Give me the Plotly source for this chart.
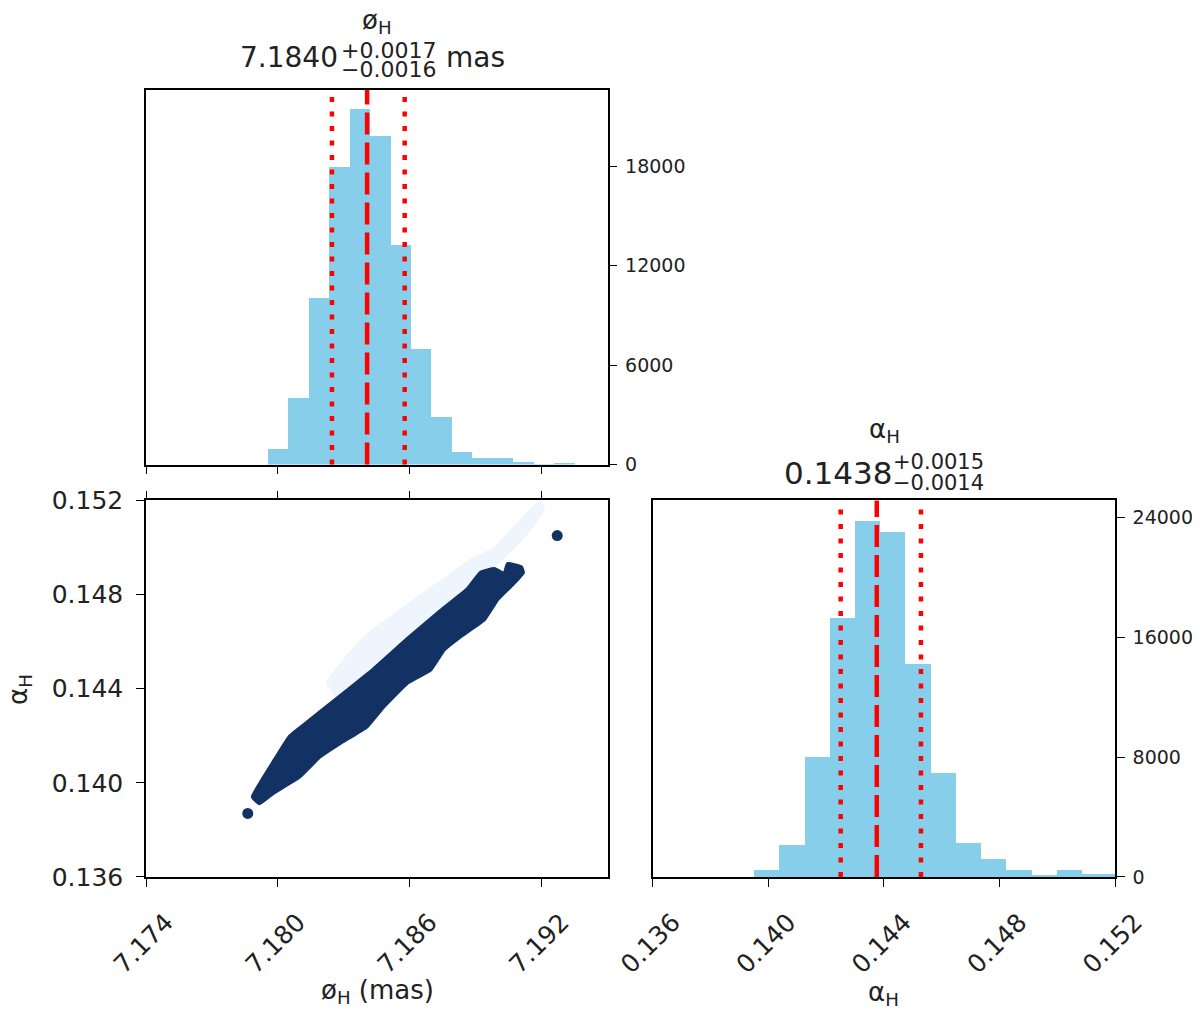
import numpy as np
import plotly.graph_objects as go

# phi_H histogram (counts per bin)
phi_bin_start = 7.17954
phi_bin_width = 0.000931
phi_counts = [965, 4020, 10050, 17970, 21490, 19840, 13270, 6980, 2850, 740, 380, 380, 140, 20, 100]
phi_lines = [7.18246, 7.18406, 7.18577]   # 16%, median, 84%

# alpha_H histogram
alpha_bin_start = 0.139505
alpha_bin_width = 0.000873
alpha_counts = [445, 2110, 8000, 17270, 23780, 23000, 14220, 6930, 2270, 1180, 445, 100, 445, 200, 200]
alpha_lines = [0.14250, 0.14375, 0.14528]

# scatter cloud outline (dark part)
dark_x = [7.17886, 7.17977, 7.18054, 7.18130, 7.18283, 7.18435, 7.18588, 7.18741, 7.18863, 7.18924,
          7.18985, 7.19031, 7.19046, 7.19107, 7.19115,
          7.19076, 7.19000, 7.18939, 7.18832, 7.18756, 7.18695, 7.18588, 7.18481, 7.18405, 7.18283,
          7.18191, 7.18099, 7.17977, 7.17916]
dark_y = [0.13941, 0.14084, 0.14197, 0.14254, 0.14368, 0.14482, 0.14610, 0.14731, 0.14823, 0.14894,
          0.14909, 0.14887, 0.14930, 0.14916, 0.14894,
          0.14852, 0.14781, 0.14695, 0.14624, 0.14567, 0.14482, 0.14425, 0.14325, 0.14240, 0.14169,
          0.14112, 0.14027, 0.13956, 0.13913]
# light strip just above it
light_x = [7.18229, 7.18405, 7.18588, 7.18741, 7.18893, 7.18985, 7.19191,
           7.19206, 7.19107, 7.18993, 7.18878, 7.18283, 7.18252]
light_y = [0.14425, 0.14624, 0.14752, 0.14852, 0.14951, 0.14994, 0.15190,
           0.15165, 0.15037, 0.14930, 0.14780, 0.14332, 0.14396]
# two lone points
out_x = [7.17863, 7.19271]
out_y = [0.13870, 0.15051]

phi_ticks = [7.174, 7.180, 7.186, 7.192]
phi_labels = ["7.174", "7.180", "7.186", "7.192"]
alpha_ticks = [0.136, 0.140, 0.144, 0.148, 0.152]
alpha_labels = ["0.136", "0.140", "0.144", "0.148", "0.152"]
phi_count_ticks = [0, 6000, 12000, 18000]
alpha_count_ticks = [0, 8000, 16000, 24000]

FONT = "DejaVu Sans"
OFF = 8   # page margin of the html body
W, H = 1192, 1005
ML, MR, MT, MB = 138, 85, 82, 136
PW, PH = W - ML - MR, H - MT - MB


def px(x, y):
    # page pixel position -> paper coords
    return (x - OFF - ML) / PW, (H - MB - (y - OFF)) / PH


skyblue = "#87ceeb"
dark = "#123264"
light = "#eef5fc"

fig = go.Figure()

phi_centers = phi_bin_start + phi_bin_width * (np.arange(len(phi_counts)) + 0.5)
fig.add_trace(go.Bar(x=phi_centers, y=phi_counts, width=phi_bin_width,
                     marker=dict(color=skyblue, line=dict(width=0)),
                     xaxis="x", yaxis="y", hoverinfo="skip"))

alpha_centers = alpha_bin_start + alpha_bin_width * (np.arange(len(alpha_counts)) + 0.5)
fig.add_trace(go.Bar(x=alpha_centers, y=alpha_counts, width=alpha_bin_width,
                     marker=dict(color=skyblue, line=dict(width=0)),
                     xaxis="x3", yaxis="y3", hoverinfo="skip"))

# scatter cloud
fig.add_trace(go.Scatter(x=light_x + light_x[:1], y=light_y + light_y[:1], mode="lines",
                         fill="toself", fillcolor=light, line=dict(color=light, width=4, shape="spline", smoothing=0.5),
                         xaxis="x2", yaxis="y2", hoverinfo="skip"))
fig.add_trace(go.Scatter(x=dark_x + dark_x[:1], y=dark_y + dark_y[:1], mode="lines",
                         fill="toself", fillcolor=dark, line=dict(color=dark, width=4, shape="spline", smoothing=0.3),
                         xaxis="x2", yaxis="y2", hoverinfo="skip"))
fig.add_trace(go.Scatter(x=out_x, y=out_y, mode="markers",
                         marker=dict(color=dark, size=11),
                         xaxis="x2", yaxis="y2", hoverinfo="skip"))

# quantile lines
for i, v in enumerate(phi_lines):
    fig.add_shape(type="line", xref="x", yref="y domain", x0=v, x1=v, y0=0, y1=1,
                  line=dict(color="red", width=4.5, dash="22px,8px" if i == 1 else "5px,9.5px"))
for i, v in enumerate(alpha_lines):
    fig.add_shape(type="line", xref="x3", yref="y3 domain", x0=v, x1=v, y0=0, y1=1,
                  line=dict(color="red", width=4.5, dash="22px,8px" if i == 1 else "5px,9.5px"))

axis_common = dict(showline=True, linecolor="black", linewidth=1.5, ticks="outside",
                   ticklen=8, tickwidth=1.3, tickcolor="black", showgrid=False, zeroline=False,
                   automargin=False, tickfont=dict(family=FONT, size=25, color="#222"))
small_ticks = dict(family=FONT, size=19, color="#222")

fig.update_layout(
    width=W, height=H,
    margin=dict(l=ML, r=MR, t=MT, b=MB),
    paper_bgcolor="white", plot_bgcolor="white",
    showlegend=False, bargap=0,
    font=dict(family=FONT, color="#222"),
    xaxis=dict(axis_common, domain=[0, 0.4763], range=[7.174, 7.195], tickvals=phi_ticks,
               showticklabels=False, mirror=True, anchor="y"),
    yaxis=dict(axis_common, domain=[0.5241, 1], range=[0, 22610], tickvals=phi_count_ticks,
               ticktext=[str(v) for v in phi_count_ticks],
               side="right", mirror=True, anchor="x", tickfont=small_ticks, ticklabelstandoff=4),
    xaxis2=dict(axis_common, domain=[0, 0.4763], range=[7.174, 7.195], tickvals=phi_ticks,
                ticktext=phi_labels, tickangle=-45, mirror="ticks",
                anchor="y2", ticklabelshift=20, ticklabelstandoff=11),
    yaxis2=dict(axis_common, domain=[0, 0.4784], range=[0.136, 0.152], tickvals=alpha_ticks,
                ticktext=alpha_labels, mirror=True, anchor="x2", ticklabelstandoff=8),
    xaxis3=dict(axis_common, domain=[0.5232, 1], range=[0.136, 0.152], tickvals=alpha_ticks,
                ticktext=alpha_labels, tickangle=-45, mirror=True,
                anchor="y3", ticklabelshift=20, ticklabelstandoff=11),
    yaxis3=dict(axis_common, domain=[0, 0.4784], range=[0, 25150], tickvals=alpha_count_ticks,
                ticktext=[str(v) for v in alpha_count_ticks],
                side="right", mirror=True, anchor="x3", tickfont=small_ticks, ticklabelstandoff=4),
)


def note(text, x, y, size, xanchor="center", angle=0):
    ax, ay = px(x, y)
    fig.add_annotation(text=text, x=ax, y=ay, xref="paper", yref="paper", showarrow=False,
                       xanchor=xanchor, yanchor="middle", textangle=angle,
                       font=dict(family=FONT, size=size, color="#222"))


# titles
note("ø<sub>H</sub>", 377, 21, 26)
note("7.1840", 340, 57.5, 28, "right")
note("+0.0017", 339, 50, 22, "left")
note("\u22120.0016", 339, 69, 22, "left")
note("mas", 444, 57.5, 28, "left")

note("α<sub>H</sub>", 884, 430, 26)
note("0.1438", 894, 473, 31, "right")
note("+0.0015", 891, 462, 21, "left")
note("\u22120.0014", 891, 483, 21, "left")

# axis labels
note("ø<sub>H</sub> (mas)", 377, 991, 26)
note("α<sub>H</sub>", 883, 993, 26)
note("α<sub>H</sub>", 19, 690, 26, angle=-90)

fig.write_html("out.html")
